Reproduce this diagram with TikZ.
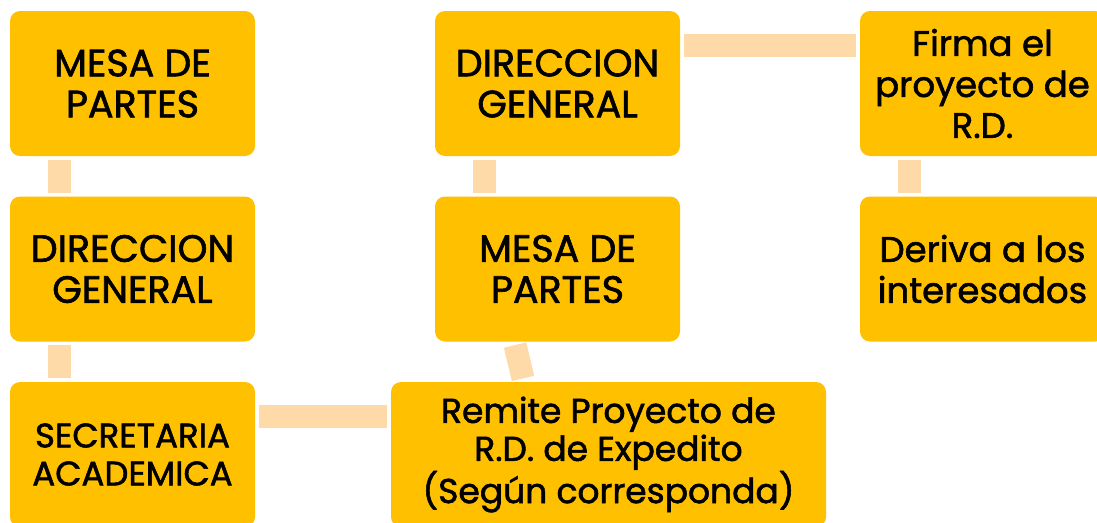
\documentclass[tikz,border=0pt]{standalone}
\usepackage{fontspec}
\setmainfont{Poppins}
\newfontfamily\boxfont{Poppins}[FakeBold=1.6]
\definecolor{boxorange}{RGB}{255,192,0}
\definecolor{linkpeach}{RGB}{253,218,168}
\begin{document}
\begin{tikzpicture}[x=1pt, y=-1pt,
	box/.style={rectangle, rounded corners=10pt, fill=boxorange, minimum width=245pt, minimum height=145pt, inner sep=0pt, align=center},
	big/.style={font=\boxfont\fontsize{38}{41}\selectfont},
	small/.style={font=\boxfont\fontsize{34}{38}\selectfont},
	lower/.style={font=\boxfont\fontsize{35.5}{41}\selectfont},
	link/.style={draw=linkpeach, line width=23pt, shorten <=3.5pt, shorten >=3.5pt}]
	\useasboundingbox (0,0) rectangle (1097,522);
	\clip (0,0) rectangle (1097,522);
	\node[box, big] at (132.5,83.5) (mesa1) {MESA DE\\PARTES};
	\node[box, big] at (132.5,269) (dir1) {DIRECCION\\GENERAL};
	\node[box, small] at (132.5,454.5) (secre) {SECRETARIA\\ACADEMICA};
	\node[box, lower, font=\boxfont\fontsize{34.5}{38}\selectfont, minimum width=435pt] at (608.5,454.5) (remite) {Remite Proyecto de\\R.D. de Expedito\\(Según corresponda)};
	\node[box, big] at (557.5,269) (mesa2) {MESA DE\\PARTES};
	\node[box, big] at (557.5,83.5) (dir2) {DIRECCION\\GENERAL};
	\node[box, lower] at (982.5,83.5) (firma) {Firma el\\proyecto de\\R.D.};
	\node[box, lower] at (982.5,269) (deriva) {Deriva a los\\interesados};
	\draw[link] ([xshift=49.5pt]mesa1.south west) -- ([xshift=49.5pt]dir1.north west);
	\draw[link] ([xshift=49.5pt]dir1.south west) -- ([xshift=49.5pt]secre.north west);
	\draw[link] ([yshift=-34.5pt]secre.north east) -- ([yshift=-34.5pt]remite.north west);
	\draw[link] ([xshift=133pt]remite.north west) -- ([xshift=79.5pt]mesa2.south west);
	\draw[link] ([xshift=49.5pt]mesa2.north west) -- ([xshift=49.5pt]dir2.south west);
	\draw[link] ([yshift=-35pt]dir2.north east) -- ([yshift=-35pt]firma.north west);
	\draw[link] ([xshift=49.5pt]firma.south west) -- ([xshift=49.5pt]deriva.north west);
\end{tikzpicture}
\end{document}
